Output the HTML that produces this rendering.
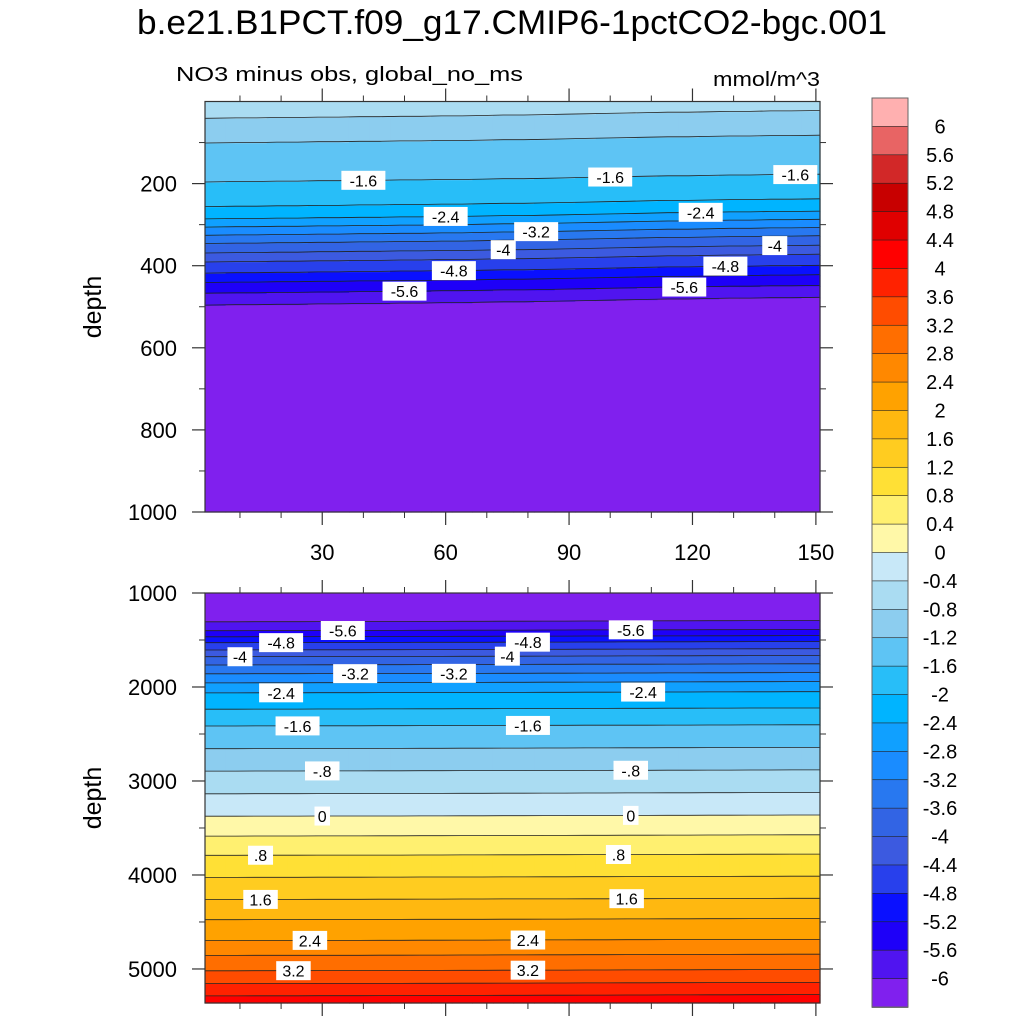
<!DOCTYPE html>
<html><head><meta charset="utf-8"><style>
body{margin:0;background:#fff;}
svg{display:block;font-family:"Liberation Sans",sans-serif;}
</style></head><body>
<svg id="c" width="1024" height="1024" viewBox="0 0 1024 1024">
<text x="137" y="34" font-size="34" textLength="750" lengthAdjust="spacingAndGlyphs">b.e21.B1PCT.f09_g17.CMIP6-1pctCO2-bgc.001</text>
<text x="176" y="81" font-size="20" textLength="347" lengthAdjust="spacingAndGlyphs">NO3 minus obs, global_no_ms</text>
<text x="713" y="86" font-size="20" textLength="107" lengthAdjust="spacingAndGlyphs">mmol/m^3</text>
<text transform="translate(101,307) rotate(-90)" font-size="25" text-anchor="middle">depth</text>
<text transform="translate(101,798) rotate(-90)" font-size="25" text-anchor="middle">depth</text>
<g id="top"></g>
<g id="bot"></g>
<g id="cb"></g>
</svg>
<script>
// ---- data ----
const levels = [-6,-5.6,-5.2,-4.8,-4.4,-4,-3.6,-3.2,-2.8,-2.4,-2,-1.6,-1.2,-0.8,-0.4,0,0.4,0.8,1.2,1.6,2,2.4,2.8,3.2,3.6,4,4.4,4.8,5.2,5.6,6];
const colors = ["#8020ee","#5014f0","#1e00f8","#0a10ff","#2840ec","#3c5ae0","#3264e4","#2878f0","#1a8cff","#10a0ff","#00b4ff","#28bef8","#5ec4f4","#8ccdef","#aadcf2","#c8e8f8","#fff8a8","#fff070","#ffe035","#ffcc20","#ffb810","#ffa200","#ff8800","#ff6e00","#ff4c00","#ff2200","#ff0000","#e00000","#c80000","#d22828","#e86464","#ffb0b0"];
const cbLabels = ["6","5.6","5.2","4.8","4.4","4","3.6","3.2","2.8","2.4","2","1.6","1.2","0.8","0.4","0","-0.4","-0.8","-1.2","-1.6","-2","-2.4","-2.8","-3.2","-3.6","-4","-4.4","-4.8","-5.2","-5.6","-6"];
const years = [4,9,14,19,24,29,34,39,44,49,54,59,64,69,74,79,84,89,94,99,104,109,114,119,124,129,134,139,144,149];
const topDepths = [0,35,95,190,250,280,300,320,340,363,385,412,435,461,490,1000];
const topValues = [-0.5,-0.8,-1.2,-1.6,-2.0,-2.4,-2.8,-3.2,-3.6,-4.0,-4.4,-4.8,-5.2,-5.6,-6.0,-6.3];
const topShift = [6,5,5,4,4,3,3,2,2,1,1,0,0,-1,-2,-2,-3,-4,-5,-6,-7,-8,-9,-9,-10,-11,-11,-12,-12,-13];
const botDepths = [1000,1300,1395,1460,1523,1600,1672,1760,1854,1950,2057,2230,2409,2650,2889,3130,3369,3580,3785,4020,4255,4470,4692,4850,5013,5150,5280,5362];
const botValues = [-6.2,-6.0,-5.6,-5.2,-4.8,-4.4,-4.0,-3.6,-3.2,-2.8,-2.4,-2.0,-1.6,-1.2,-0.8,-0.4,0,0.4,0.8,1.2,1.6,2.0,2.4,2.8,3.2,3.6,4.0,4.3];
const botShift = [6,6,5,5,5,4,4,4,3,3,2,2,1,1,0,0,-1,-1,-2,-2,-3,-3,-4,-4,-5,-5,-6,-6,-7,-7];
const topLabels = [[40,-1.6],[100,-1.6],[145,-1.6],[60,-2.4],[122,-2.4],[82,-3.2],[74,-4],[140,-4],[62,-4.8],[128,-4.8],[50,-5.6],[118,-5.6]];
const botLabels = [[10,-4],[20,-4.8],[35,-5.6],[75,-4],[80,-4.8],[105,-5.6],[38,-3.2],[62,-3.2],[20,-2.4],[108,-2.4],[24,-1.6],[80,-1.6],[30,-0.8],[105,-0.8],[30,0],[105,0],[15,0.8],[102,0.8],[15,1.6],[104,1.6],[27,2.4],[80,2.4],[23,3.2],[80,3.2]];
const labelText = v => { if (v===0) return "0"; let s=String(v); if (Math.abs(v)<1) s=s.replace("0.","."); return s; };

const NS="http://www.w3.org/2000/svg";
function mk(parent,tag,attrs){const e=document.createElementNS(NS,tag);for(const k in attrs)e.setAttribute(k,attrs[k]);parent.appendChild(e);return e;}
function interp(xa,ya,x){if(x<=xa[0])return ya[0];for(let i=1;i<xa.length;i++){if(x<=xa[i]){const t=(x-xa[i-1])/(xa[i]-xa[i-1]);return ya[i-1]+t*(ya[i]-ya[i-1]);}}return ya[ya.length-1];}
function colorIndex(v){let i=0;while(i<levels.length&&v>=levels[i])i++;return i;}
function levelDepth(ds,vs,lv){for(let i=1;i<vs.length;i++){const a=vs[i-1],b=vs[i];if((a-lv)*(b-lv)<=0&&a!==b){return ds[i-1]+(lv-a)/(b-a)*(ds[i]-ds[i-1]);}}return null;}

const X0=1.5,X1=151,PL=205,PR=820;
const xs=v=>PL+(v-X0)/(X1-X0)*(PR-PL);

function panel(g,pt,pb,d0,d1,ds,vs,shift,dz,labels,majorY,minorY,isTop){
  const ys=d=>pt+(d-d0)/(d1-d0)*(pb-pt);
  const halfW=(years[1]-years[0])/2;
  years.forEach((yr,ci)=>{
    let runStart=d0,runCol=null;
    for(let d=d0;d<=d1+dz;d+=dz){
      const dd=Math.min(d,d1);
      const v=interp(ds,vs,dd-shift[ci]);
      const c=colorIndex(v);
      if(runCol===null){runCol=c;runStart=dd;}
      else if(c!==runCol||d>=d1){
        const x0=ci===0?PL:xs(yr-halfW), x1=ci===years.length-1?PR:xs(yr+halfW);
        const r=mk(g,'rect',{x:x0.toFixed(2),y:ys(runStart).toFixed(2),width:(x1-x0+0.6).toFixed(2),height:(ys(dd)-ys(runStart)+0.6).toFixed(2),fill:colors[runCol]});
        
        
        runCol=c;runStart=dd;
        if(d>=d1)break;
      }
    }
  });
  levels.forEach(lv=>{
    const base=levelDepth(ds,vs,lv); if(base===null)return;
    const pts=[];
    years.forEach((yr,ci)=>{const d=base+shift[ci]; if(d>d0&&d<d1)pts.push([ci===0?PL:ci===years.length-1?PR:xs(yr),ys(d)]);});
    if(pts.length<2)return;
    const pl=mk(g,'polyline',{points:pts.map(p=>p[0].toFixed(1)+','+p[1].toFixed(1)).join(' '),fill:'none',stroke:'#222','stroke-width':0.8});
    
    
  });
  labels.forEach(([yr,lv])=>{
    const base=levelDepth(ds,vs,lv); if(base===null)return;
    const ci=Math.max(0,Math.min(years.length-1,Math.round((yr-years[0])/5)));
    const d=base+shift[ci]; const x=xs(yr),y=ys(d);
    const t=labelText(lv); const w=t.length*9.5+6;
    const b=mk(g,'rect',{x:x-w/2,y:y-9.5,width:w,height:19,fill:'#fff'});
    
    
    const tx=mk(g,'text',{x:x,y:y+6,'font-size':16,'text-anchor':'middle'});tx.textContent=t;
    
    
  });
  const f=mk(g,'rect',{x:PL,y:pt,width:PR-PL,height:pb-pt,fill:'none',stroke:'#333','stroke-width':1.2});
  
  
  minorY.forEach(d=>{mk(g,'line',{x1:PL-6,x2:PL,y1:ys(d),y2:ys(d),stroke:'#333','stroke-width':1});mk(g,'line',{x1:PR+6,x2:PR,y1:ys(d),y2:ys(d),stroke:'#333','stroke-width':1});});
  majorY.forEach(d=>{mk(g,'line',{x1:PL-13,x2:PL,y1:ys(d),y2:ys(d),stroke:'#333','stroke-width':1.2});mk(g,'line',{x1:PR+13,x2:PR,y1:ys(d),y2:ys(d),stroke:'#333','stroke-width':1.2});
    const t=mk(g,'text',{x:177,y:ys(d)+8,'font-size':22,'text-anchor':'end'});t.textContent=String(d);
    
    });
  const ey=isTop?pb:pt, dir=isTop?1:-1;
  for(let v=10;v<=150;v+=10){const maj=v%30===0;mk(g,'line',{x1:xs(v),x2:xs(v),y1:ey,y2:ey+dir*(maj?13:6),stroke:'#333','stroke-width':maj?1.2:1});
    const oy=isTop?pt:pb; mk(g,'line',{x1:xs(v),x2:xs(v),y1:oy,y2:oy-dir*(maj?13:6),stroke:'#333','stroke-width':maj?1.2:1});}
  if(isTop){for(let v=30;v<=150;v+=30){const t=mk(g,'text',{x:xs(v),y:560,'font-size':22,'text-anchor':'middle'});t.textContent=String(v);
    
    }}
}
panel(document.getElementById('top'),101.5,512,0,1000,topDepths,topValues,topShift,2,topLabels,[200,400,600,800,1000],[100,300,500,700,900],true);
panel(document.getElementById('bot'),593,1003,1000,5362,botDepths,botValues,botShift,5,botLabels,[1000,2000,3000,4000,5000],[1500,2500,3500,4500],false);

const cb=document.getElementById('cb');
const CT=98,CB=1007,CL=872,CW=36,n=colors.length,h=(CB-CT)/n;
for(let i=0;i<n;i++){const r=mk(cb,'rect',{x:CL,y:CT+i*h,width:CW,height:h+0.5,fill:colors[n-1-i],stroke:'#222','stroke-width':0.6});
  
  }
mk(cb,'rect',{x:CL,y:CT,width:CW,height:CB-CT,fill:'none',stroke:'#666','stroke-width':1});
cbLabels.forEach((s,i)=>{const t=mk(cb,'text',{x:940,y:CT+(i+1)*h+7,'font-size':20,'text-anchor':'middle'});t.textContent=s;
  
  });
</script>
</body></html>
